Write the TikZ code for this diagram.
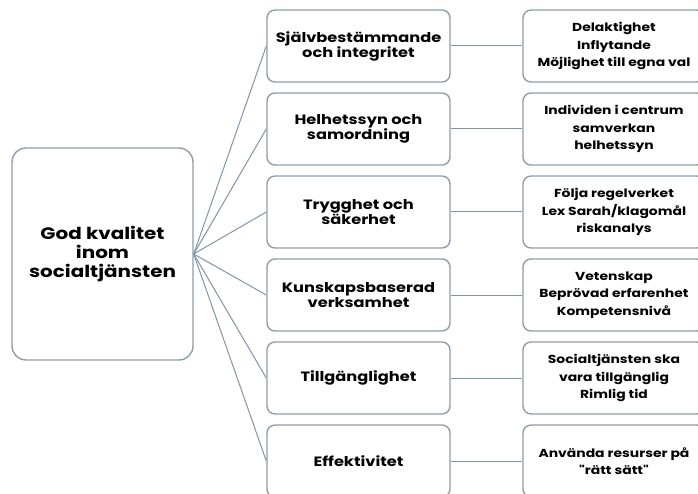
\documentclass[tikz,border=0pt]{standalone}
\usepackage{fontspec}
\setmainfont{Poppins}[FakeStretch=1.2, Ligatures=TeXOff]
\usetikzlibrary{positioning}

\definecolor{boxline}{HTML}{8E9EAB}
\definecolor{linkline}{HTML}{7F95A8}

\begin{document}
\begin{tikzpicture}[x=1pt, y=-1pt,
  rootbox/.style={draw=boxline, line width=1.4pt, rounded corners=14pt, fill=white,
    minimum width=181pt, minimum height=212pt, align=center,
    font=\bfseries\fontsize{16.6}{19}\selectfont},
  midbox/.style={draw=boxline, line width=1.4pt, rounded corners=8pt, fill=white,
    minimum width=183pt, minimum height=72pt, align=center, inner sep=2pt,
    font=\bfseries\fontsize{13.5}{15}\selectfont},
  leafbox/.style={draw=boxline, line width=1.4pt, rounded corners=8pt, fill=white,
    minimum width=182pt, minimum height=72pt, align=center, inner sep=2pt,
    font=\bfseries\fontsize{11.6}{17.5}\selectfont},
  link/.style={draw=linkline, line width=1pt}]

\useasboundingbox (0,0) rectangle (698,494);
\clip (0,0) rectangle (698,494);

\def\Xroot{102.5}
\def\Xmid{358.5}
\def\Xleaf{614}

\node[rootbox] (god) at (\Xroot,254) {God kvalitet\\inom\\socialtjänsten};

\node[midbox] (sjalv)   at (\Xmid, 46) {Självbestämmande\\och integritet};
\node[midbox] (helhet)  at (\Xmid,129) {Helhetssyn och\\samordning};
\node[midbox] (trygg)   at (\Xmid,212) {Trygghet och\\säkerhet};
\node[midbox] (kunskap) at (\Xmid,295) {Kunskapsbaserad\\verksamhet};
\node[midbox] (tillg)   at (\Xmid,378) {Tillgänglighet};
\node[midbox] (effekt)  at (\Xmid,461) {Effektivitet};

\node[leafbox] (delakt)  at (\Xleaf, 46) {Delaktighet\\Inflytande\\Möjlighet till egna val};
\node[leafbox] (indiv)   at (\Xleaf,129) {Individen i centrum\\samverkan\\helhetssyn};
\node[leafbox] (folja)   at (\Xleaf,212) {Följa regelverket\\Lex Sarah/klagomål\\riskanalys};
\node[leafbox] (vetensk) at (\Xleaf,295) {Vetenskap\\Beprövad erfarenhet\\Kompetensnivå};
\node[leafbox] (social)  at (\Xleaf,378) {Socialtjänsten ska\\vara tillgänglig\\Rimlig tid};
\node[leafbox] (anvanda) at (\Xleaf,461) {Använda resurser på\\{\char"22}rätt sätt{\char"22}};

\draw[link] (god.east) -- (sjalv.west);
\draw[link] (god.east) -- (helhet.west);
\draw[link] (god.east) -- (trygg.west);
\draw[link] (god.east) -- (kunskap.west);
\draw[link] (god.east) -- (tillg.west);
\draw[link] (god.east) -- (effekt.west);

\draw[link] (sjalv.east)   -- (delakt.west);
\draw[link] (helhet.east)  -- (indiv.west);
\draw[link] (trygg.east)   -- (folja.west);
\draw[link] (kunskap.east) -- (vetensk.west);
\draw[link] (tillg.east)   -- (social.west);
\draw[link] (effekt.east)  -- (anvanda.west);

\end{tikzpicture}
\end{document}
